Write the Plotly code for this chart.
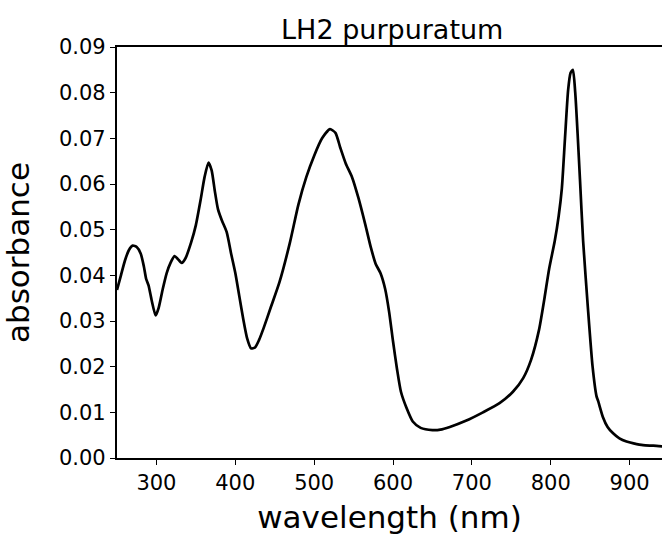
import plotly.graph_objects as go

wavelength = [250, 255, 260, 265, 270, 275, 280, 284, 287, 290, 294, 299, 303, 308, 313, 318, 323, 327, 332, 337,
              344, 350, 356, 361, 366, 370, 374, 378, 383, 389, 395, 400, 405, 410, 415, 420, 425, 430, 436, 445,
              456, 469, 480, 490, 500, 510, 520, 527, 533, 540, 548, 556, 565, 572, 578, 584, 590, 595, 600, 605,
              610, 617, 625, 635, 650, 660, 672, 693, 714, 735, 752, 765, 775, 785, 792, 798, 805, 810, 814, 818,
              822, 825, 828, 831, 834, 837, 841, 847, 853, 858, 860, 866, 872, 879, 887, 896, 905, 917, 930, 945]
absorbance = [0.0368, 0.0400, 0.0432, 0.0455, 0.0465, 0.0462, 0.0448, 0.0420, 0.0392, 0.0378, 0.0345, 0.0312,
              0.0330, 0.0370, 0.0405, 0.0428, 0.0442, 0.0436, 0.0427, 0.0438, 0.0472, 0.0510, 0.0565, 0.0615,
              0.0647, 0.0630, 0.0585, 0.0545, 0.0520, 0.0495, 0.0445, 0.0405, 0.0355, 0.0305, 0.0262, 0.0240,
              0.0242, 0.0258, 0.0285, 0.0330, 0.0385, 0.0470, 0.0555, 0.0615, 0.0662, 0.0700, 0.0720, 0.0712,
              0.0680, 0.0645, 0.0615, 0.0570, 0.0510, 0.0460, 0.0425, 0.0405, 0.0370, 0.0320, 0.0255, 0.0195,
              0.0145, 0.0110, 0.0080, 0.0066, 0.0061, 0.0062, 0.0068, 0.0082, 0.0100, 0.0120, 0.0145, 0.0175,
              0.0215, 0.0280, 0.0350, 0.0415, 0.0475, 0.0530, 0.0590, 0.0700, 0.0806, 0.0843, 0.0850, 0.0800,
              0.0710, 0.0610, 0.0475, 0.0330, 0.0200, 0.0135, 0.0125, 0.0090, 0.0068, 0.0054, 0.0043, 0.0036,
              0.0032, 0.0028, 0.0027, 0.0025]

x_ticks = [300, 400, 500, 600, 700, 800, 900]
y_ticks = [0.00, 0.01, 0.02, 0.03, 0.04, 0.05, 0.06, 0.07, 0.08, 0.09]

FONT = "DejaVu Sans"

fig = go.Figure()
fig.add_trace(go.Scatter(x=wavelength, y=absorbance, mode="lines",
                         line=dict(color="black", width=2.7, shape="spline", smoothing=0.6),
                         showlegend=False, hoverinfo="skip"))

fig.update_layout(
    width=662, height=535,
    margin=dict(l=117, r=0, t=47, b=77),
    paper_bgcolor="white", plot_bgcolor="white",
    font=dict(family=FONT, color="black"),
    title=dict(text="LH2 purpuratum", font=dict(size=27, family=FONT, color="black"),
               x=0.505, xref="paper", xanchor="center",
               y=1, yref="paper", yanchor="bottom", pad=dict(b=8)),
    xaxis=dict(range=[250, 941], tickvals=x_ticks, ticktext=[str(v) for v in x_ticks],
               showgrid=False, zeroline=False, showline=True, linecolor="black", linewidth=2.2,
               mirror=True, ticks="outside", ticklen=5, tickwidth=1.3, tickcolor="black",
               tickfont=dict(size=21, family=FONT, color="black"),
               title=dict(text="wavelength (nm)", font=dict(size=31, family=FONT, color="black"), standoff=15)),
    yaxis=dict(range=[0, 0.09], tickvals=y_ticks, ticktext=[f"{v:.2f}" for v in y_ticks],
               showgrid=False, zeroline=False, showline=True, linecolor="black", linewidth=2.2,
               mirror=False, ticks="outside", ticklen=5, tickwidth=1.3, tickcolor="black",
               tickfont=dict(size=21, family=FONT, color="black"),
               title=dict(text="absorbance", font=dict(size=31, family=FONT, color="black"), standoff=20)),
)

fig.write_html("out.html")
